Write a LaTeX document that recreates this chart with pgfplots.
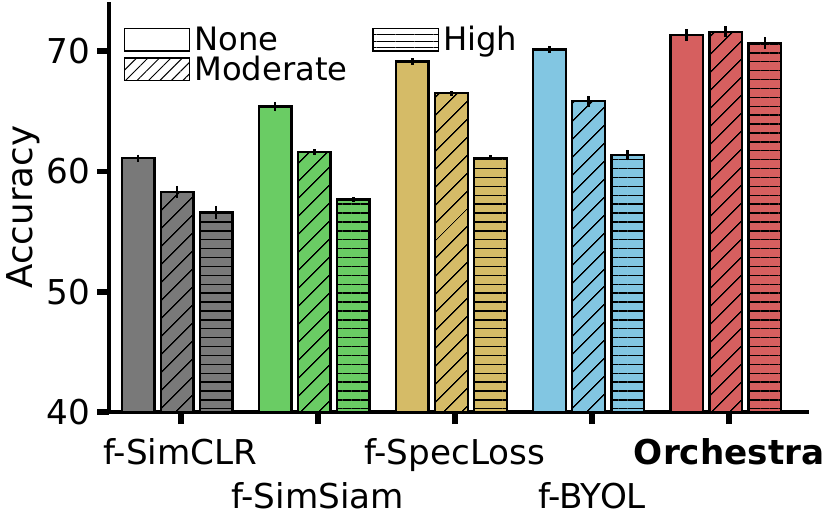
\documentclass[border=0pt]{standalone}
\usepackage{pgfplots}
\pgfplotsset{compat=1.18}
\usepackage{fontspec}
\setmainfont{DejaVu Sans}
\usetikzlibrary{patterns.meta}

% seaborn "muted" colours
\definecolor{cgray}{HTML}{797979}
\definecolor{cgreen}{HTML}{6ACC64}
\definecolor{cyellow}{HTML}{D5BB67}
\definecolor{cblue}{HTML}{82C6E2}
\definecolor{cred}{HTML}{D65F5F}

% bars at group-0.285 / group / group+0.285
\pgfplotsset{
  barbase/.style={ybar, bar width=16.5pt, bar shift=0pt, draw=black, line width=1.2pt,
    error bars/y dir=both, error bars/y explicit, error bars/error mark=none,
    error bars/error bar style={line width=1.3pt, black}},
  lvnone/.style={barbase, fill=#1},
  lvmod/.style={barbase, fill=#1,
    postaction={pattern={Lines[angle=45,distance=6.4pt,line width=0.7pt]}, pattern color=black}},
  lvhigh/.style={barbase, fill=#1,
    postaction={pattern={Lines[angle=0,distance=4.5pt,line width=0.7pt]}, pattern color=black}},
}

\begin{document}
\begin{tikzpicture}
\begin{axis}[
    scale only axis,
    width=354pt, height=207.5pt,
    xmin=-0.494, xmax=4.609,
    ymin=40, ymax=74.08,
    axis x line*=bottom, axis y line*=left,
    axis line style={line width=2pt, -},
    tick align=outside,
    major tick length=6pt,
    tick style={line width=3pt, black},
    xtick={0.025,2.025,4.025},
    xticklabels={f-SimCLR, f-SpecLoss, \textbf{Orchestra}},
    extra x ticks={1.025,3.025},
    extra x tick labels={f-SimSiam, f-BYOL},
    extra x tick style={xticklabel style={yshift=-22pt}},
    xticklabel style={font=\fontsize{17.3}{20}\selectfont, anchor=north, yshift=-4pt},
    ytick={40,50,60,70},
    yticklabel style={font=\fontsize{17.3}{20}\selectfont},
    /pgf/number format/assume math mode=true,
    ylabel={Accuracy},
    ylabel style={font=\fontsize{18}{21}\selectfont, at={(axis description cs:-0.123,0.5)}, anchor=center},
    legend columns=2,
    legend style={draw=none, fill=none, at={(axis description cs:0,1)}, anchor=north west,
      xshift=4pt, yshift=-8pt, font=\fontsize{16.3}{18}\selectfont,
      /tikz/every even column/.append style={column sep=10.5pt}, row sep=-3pt},
    legend cell align={left},
]
\addlegendimage{legend image code/.code={\draw[fill=white,draw=black,line width=0.8pt] (-2pt,-5.75pt) rectangle (31pt,5.75pt);}}
\addlegendentry{None}
\addlegendimage{legend image code/.code={\draw[fill=white,draw=black,line width=0.8pt,
  postaction={pattern={Lines[angle=0,distance=3.2pt,line width=0.5pt]}, pattern color=black}] (-2pt,-5.75pt) rectangle (31pt,5.75pt);}}
\addlegendentry{High}
\addlegendimage{legend image code/.code={\draw[fill=white,draw=black,line width=0.8pt,
  postaction={pattern={Lines[angle=45,distance=4.1pt,line width=0.5pt]}, pattern color=black}] (-2pt,-5.75pt) rectangle (31pt,5.75pt);}}
\addlegendentry{Moderate}

% f-SimCLR
\addplot[lvnone=cgray, forget plot] coordinates {(-0.285,61.10) +- (0,0.30)};
\addplot[lvmod=cgray, forget plot]  coordinates {(0,58.30) +- (0,0.50)};
\addplot[lvhigh=cgray, forget plot] coordinates {(0.285,56.60) +- (0,0.55)};
% f-SimSiam
\addplot[lvnone=cgreen, forget plot] coordinates {(0.715,65.39) +- (0,0.40)};
\addplot[lvmod=cgreen, forget plot]  coordinates {(1,61.61) +- (0,0.25)};
\addplot[lvhigh=cgreen, forget plot] coordinates {(1.285,57.67) +- (0,0.20)};
% f-SpecLoss
\addplot[lvnone=cyellow, forget plot] coordinates {(1.715,69.14) +- (0,0.28)};
\addplot[lvmod=cyellow, forget plot]  coordinates {(2,66.50) +- (0,0.20)};
\addplot[lvhigh=cyellow, forget plot] coordinates {(2.285,61.14) +- (0,0.20)};
% f-BYOL
\addplot[lvnone=cblue, forget plot] coordinates {(2.715,70.14) +- (0,0.28)};
\addplot[lvmod=cblue, forget plot]  coordinates {(3,65.83) +- (0,0.45)};
\addplot[lvhigh=cblue, forget plot] coordinates {(3.285,61.36) +- (0,0.43)};
% Orchestra
\addplot[lvnone=cred, forget plot] coordinates {(3.715,71.33) +- (0,0.47)};
\addplot[lvmod=cred, forget plot]  coordinates {(4,71.60) +- (0,0.47)};
\addplot[lvhigh=cred, forget plot] coordinates {(4.285,70.67) +- (0,0.50)};
\end{axis}
\end{tikzpicture}
\end{document}
